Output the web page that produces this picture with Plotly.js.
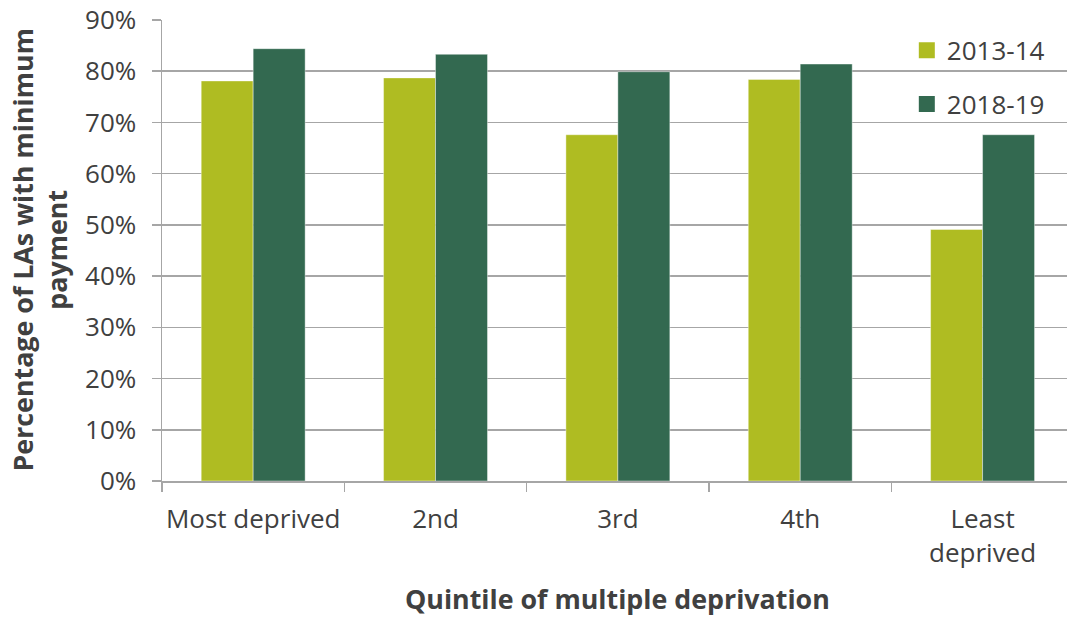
<!DOCTYPE html>
<html>
<head>
<meta charset="utf-8">
<script src="https://cdn.plot.ly/plotly-3.0.1.min.js"></script>
<style>html,body{margin:0;padding:0;background:#fff;}#chart{width:1067px;height:617px;}</style>
</head>
<body>
<div id="chart"></div>
<script>
var categories = ['Most deprived', '2nd', '3rd', '4th', 'Least deprived'];
var tickLabels = ['Most deprived', '2nd', '3rd', '4th', 'Least<br>deprived'];
var series2013 = [0.781, 0.787, 0.676, 0.784, 0.491];
var series2018 = [0.844, 0.833, 0.799, 0.814, 0.676];
var seriesNames = ['2013-14', '2018-19'];
var yTickVals = [0, 0.1, 0.2, 0.3, 0.4, 0.5, 0.6, 0.7, 0.8, 0.9];

var colors = ['#AFBC22', '#336950'];
var fontFam = '"Open Sans", "Noto Sans", sans-serif';
var textCol = '#404040';
var fs = 26;
var tfs = 26.8;

var traces = [
  {type: 'bar', x: categories, y: series2013, name: seriesNames[0], showlegend: false,
   marker: {color: colors[0], line: {width: 0.8, color: 'rgba(255,255,255,0.5)'}}, hoverinfo: 'x+y+name'},
  {type: 'bar', x: categories, y: series2018, name: seriesNames[1], showlegend: false,
   marker: {color: colors[1], line: {width: 0.8, color: 'rgba(255,255,255,0.5)'}}, hoverinfo: 'x+y+name'},
  {type: 'scatter', mode: 'markers', x: [null], y: [null], name: seriesNames[0], legendgroup: 'a',
   marker: {symbol: 'square', size: 16, color: colors[0]}},
  {type: 'scatter', mode: 'markers', x: [null], y: [null], name: seriesNames[1], legendgroup: 'b',
   marker: {symbol: 'square', size: 16, color: colors[1]}}
];

var layout = {
  width: 1067, height: 617,
  margin: {l: 162, r: 0, t: 20, b: 136},
  paper_bgcolor: '#ffffff', plot_bgcolor: '#ffffff',
  font: {family: fontFam, size: fs, color: textCol},
  barmode: 'group', bargap: 0.43, bargroupgap: 0,
  showlegend: true,
  legend: {x: 0.823, xanchor: 'left', y: 0.985, yanchor: 'top', bgcolor: 'rgba(0,0,0,0)',
           font: {size: fs, color: textCol}, tracegroupgap: 17, itemsizing: 'trace'},
  xaxis: {
    type: 'category', categoryorder: 'array', categoryarray: categories,
    range: [-0.5, 4.463],
    tickvals: categories, ticktext: tickLabels, tickangle: 0,
    tickson: 'boundaries', ticks: 'outside', ticklen: 9, tickwidth: 1.5, tickcolor: '#A6A6A6',
    showline: true, linecolor: '#A6A6A6', linewidth: 1.5,
    showgrid: false, zeroline: false,
    tickfont: {size: fs, color: textCol}, ticklabelstandoff: 14
  },
  yaxis: {
    range: [0, 0.9], tickvals: yTickVals, tickformat: '.0%',
    ticks: 'outside', ticklen: 9, tickwidth: 1.5, tickcolor: '#A6A6A6',
    showline: true, linecolor: '#A6A6A6', linewidth: 1.5,
    showgrid: true, gridcolor: '#A6A6A6', gridwidth: 1.5, zeroline: false,
    tickfont: {size: fs, color: textCol}, ticklabelstandoff: 10
  },
  annotations: [
    {text: '<b>Percentage of LAs with minimum<br>payment</b>', xref: 'paper', yref: 'paper',
     x: 0, y: 0.5, xshift: -123, xanchor: 'center', yanchor: 'middle', textangle: -90,
     showarrow: false, font: {size: tfs, color: textCol}},
    {text: '<b>Quintile of multiple deprivation</b>', xref: 'x', yref: 'paper',
     x: 2, y: 0, yshift: -117, xanchor: 'center', yanchor: 'middle',
     showarrow: false, font: {size: tfs, color: textCol}}
  ]
};

Plotly.newPlot('chart', traces, layout, {displayModeBar: false, staticPlot: true});
</script>
</body>
</html>
